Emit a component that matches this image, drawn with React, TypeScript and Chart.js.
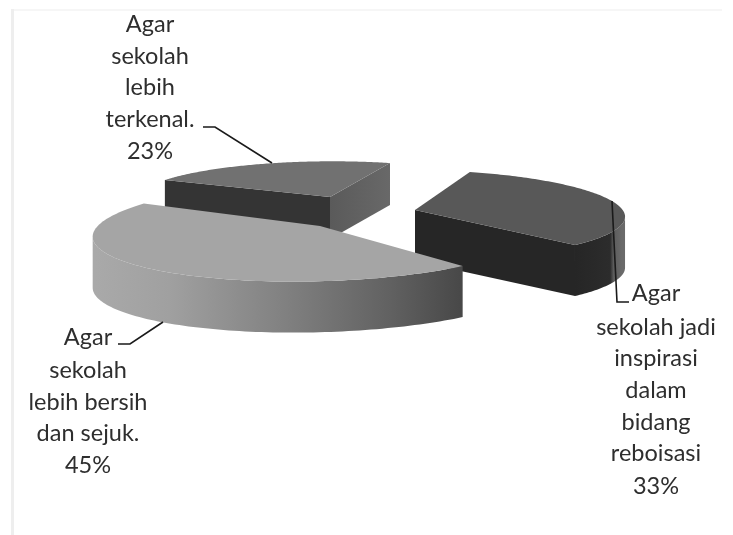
import React, { useEffect, useRef } from "react";
import { Chart, registerables } from "chart.js";

Chart.register(...registerables);

const categories = [
  ["Agar", "sekolah", "lebih bersih", "dan sejuk."],
  ["Agar", "sekolah", "lebih", "terkenal."],
  ["Agar", "sekolah jadi", "inspirasi", "dalam", "bidang", "reboisasi"],
];
const percentValues = [45, 23, 33];
const percentLabels = ["45%", "23%", "33%"];
const topColors = ["#a5a5a5", "#717171", "#585858"];

// 3D look of each slice: plane-to-screen projection (style, not data)
const projections = [
  { cx: 320, cy: 226, a: 224, b: -16, d: -2, e: 50, h: -0.1, depth: 51 },
  { cx: 330, cy: 197, a: 195.5, b: 9.6, d: -2.3, e: 39.2, h: -0.1, depth: 42 },
  { cx: 415, cy: 210, a: 206, b: 20, d: -2.1, e: 44, h: -0.1, depth: 51 },
];
const labelAnchors = [
  { x: 88, ys: [337, 370, 402, 433, 465] },
  { x: 150, ys: [24, 56, 87, 119, 151] },
  { x: 656, ys: [293, 327, 358, 390, 422, 453, 486] },
];
const leaders = [
  [[118, 344], [130, 344], [163, 322]],
  [[203, 127], [215, 127], [272, 163]],
  [[612, 201], [617, 302], [629, 302]],
];

type P = (typeof projections)[number];
const project = (p: P, t: number, z = 0) => {
  const X = Math.cos(t), Y = Math.sin(t), w = 1 + p.h * Y;
  return [p.cx + (p.a * X + p.b * Y) / w, p.cy + (p.d * X + p.e * Y) / w + z];
};

const sample = (p: P, s: number, e: number, z = 0) => {
  const out: number[][] = [];
  const n = 120;
  for (let i = 0; i <= n; i++) out.push(project(p, s + ((e - s) * i) / n, z));
  return out;
};

const fillPoly = (ctx: CanvasRenderingContext2D, pts: number[][], fill: any) => {
  ctx.beginPath();
  pts.forEach((q, i) => (i ? ctx.lineTo(q[0], q[1]) : ctx.moveTo(q[0], q[1])));
  ctx.closePath();
  ctx.fillStyle = fill;
  ctx.fill();
};

const hGrad = (ctx: CanvasRenderingContext2D, x0: number, x1: number, stops: [number, string][]) => {
  const g = ctx.createLinearGradient(x0, 0, x1, 0);
  stops.forEach(([o, c]) => g.addColorStop(o, c));
  return g;
};

const pie3d = {
  id: "pie3d",
  beforeDraw(chart: any) {
    const ctx = chart.ctx as CanvasRenderingContext2D;
    ctx.save();
    ctx.fillStyle = "#ffffff";
    ctx.fillRect(0, 0, 733, 535);
    ctx.fillStyle = "#f6f6f6";
    ctx.fillRect(12, 9, 710, 2);
    ctx.fillStyle = "#eeeeee";
    ctx.fillRect(11, 9, 3, 526);
    ctx.restore();
  },
  beforeDatasetsDraw(chart: any) {
    const ctx = chart.ctx as CanvasRenderingContext2D;
    const arcs = chart.getDatasetMeta(0).data;
    const colors = chart.data.datasets[0].backgroundColor;
    const radial = (p: P, t: number, fill: any) => {
      const a = project(p, t);
      fillPoly(ctx, [[p.cx, p.cy], a, [a[0], a[1] + p.depth], [p.cx, p.cy + p.depth]], fill);
    };
    // only the camera-facing stretch of the rim (x falling as the angle grows) is a visible wall
    const arcWall = (p: P, s: number, e: number, fill: any) => {
      const rim = sample(p, s, e).filter((q, i, all) => i === 0 ? all[1][0] < q[0] : q[0] < all[i - 1][0]);
      fillPoly(ctx, [...rim, ...rim.slice().reverse().map((q) => [q[0], q[1] + p.depth])], fill);
    };
    const top = (i: number, fill: any) => {
      const p = projections[i];
      fillPoly(ctx, [[p.cx, p.cy], ...sample(p, arcs[i].startAngle, arcs[i].endAngle)], fill);
    };
    ctx.save();
    // back slice
    {
      const p = projections[1], el = arcs[1];
      radial(p, el.endAngle, hGrad(ctx, 330, 392, [[0, "#5a5a5a"], [1, "#696969"]]));
      radial(p, el.startAngle, "#343434");
      top(1, colors[1]);
    }
    // right slice
    {
      const p = projections[2], el = arcs[2];
      arcWall(p, el.startAngle, el.endAngle, hGrad(ctx, 575, 622, [[0, "#262626"], [0.75, "#2c2c2c"], [0.82, "#5c5c5c"], [1, "#6a6a6a"]]));
      radial(p, el.endAngle, "#262626");
      top(2, colors[2]);
    }
    // front slice
    {
      const p = projections[0], el = arcs[0];
      arcWall(p, el.startAngle, el.endAngle, hGrad(ctx, 96, 464, [[0, "#a9a9a9"], [0.2, "#a0a0a0"], [0.5, "#828282"], [0.8, "#616161"], [1, "#474747"]]));
      top(0, colors[0]);
    }
    ctx.restore();
    return false;
  },
  afterDraw(chart: any) {
    const ctx = chart.ctx as CanvasRenderingContext2D;
    ctx.save();
    ctx.strokeStyle = "#1a1a1a";
    ctx.lineWidth = 1.6;
    leaders.forEach((l) => {
      ctx.beginPath();
      l.forEach((q, i) => (i ? ctx.lineTo(q[0], q[1]) : ctx.moveTo(q[0], q[1])));
      ctx.stroke();
    });
    ctx.fillStyle = "#2e2e2e";
    ctx.font = "23.5px Lato";
    ctx.textAlign = "center";
    ctx.textBaseline = "middle";
    chart.data.labels.forEach((lines: string[], i: number) => {
      const a = labelAnchors[i];
      [...lines, percentLabels[i]].forEach((s, k) => ctx.fillText(s, a.x, a.ys[k]));
    });
    ctx.restore();
  },
};

export default function App() {
  const ref = useRef<HTMLCanvasElement>(null);
  useEffect(() => {
    const chart = new Chart(ref.current!, {
      type: "pie",
      data: {
        labels: categories as any,
        datasets: [{ data: percentValues, backgroundColor: topColors, borderWidth: 0 }],
      },
      options: {
        animation: false,
        responsive: false,
        devicePixelRatio: 1,
        rotation: 140,
        plugins: { legend: { display: false }, tooltip: { enabled: false } },
      } as any,
      plugins: [pie3d as any],
    });
    return () => chart.destroy();
  }, []);
  return (
    <div style={{ position: "fixed", left: 0, top: 0, width: 733, height: 535 }}>
      <canvas ref={ref} width={733} height={535} style={{ display: "block", filter: "blur(0.5px)" }} />
    </div>
  );
}
